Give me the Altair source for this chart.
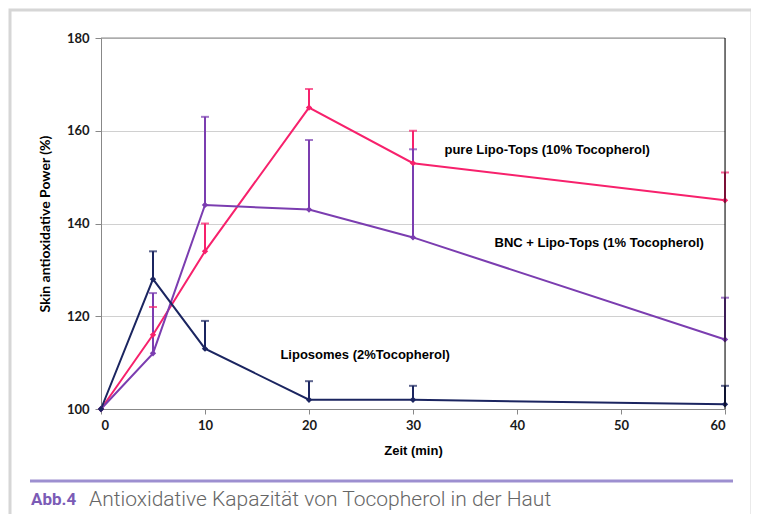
import altair as alt
import pandas as pd

times = [0, 5, 10, 20, 30, 60]
series_names = ["pure Lipo-Tops", "BNC + Lipo-Tops", "Liposomes"]
pure_vals = [100, 116, 134, 165, 153, 145]
pure_err = [100, 122, 140, 169, 160, 151]
bnc_vals = [100, 112, 144, 143, 137, 115]
bnc_err = [100, 125, 163, 158, 156, 124]
lipo_vals = [100, 128, 113, 102, 102, 101]
lipo_err = [100, 134, 119, 106, 105, 105]
colors = ["#f7216c", "#7b3db0", "#1b2560"]

label_texts = ["pure  Lipo-Tops (10% Tocopherol)", "BNC + Lipo-Tops (1% Tocopherol)", "Liposomes  (2%Tocopherol)"]
label_x = [42.9, 47.9, 25.4]
label_y = [155.9, 135.8, 111.6]

rows = []
for name, vals, errs in [(series_names[0], pure_vals, pure_err),
                         (series_names[1], bnc_vals, bnc_err),
                         (series_names[2], lipo_vals, lipo_err)]:
    for t, v, e in zip(times, vals, errs):
        rows.append({"series": name, "t": t, "v": v, "e": e})
df = pd.DataFrame(rows)
df_err = df[df["t"] > 0]
labels = pd.DataFrame({"text": label_texts, "x": label_x, "y": label_y})

W, H = 624, 371
FONT = "Liberation Sans"
TFONT = "Lato"

xs = alt.Scale(domain=[0, 60], nice=False)
ys = alt.Scale(domain=[100, 180], nice=False)
col = alt.Color("series:N", scale=alt.Scale(domain=series_names, range=colors), legend=None)

base = alt.Chart(df)

lines = base.mark_line(strokeWidth=2).encode(
    x=alt.X("t:Q", scale=xs, axis=alt.Axis(values=[0, 10, 20, 30, 40, 50, 60], title="Zeit (min)",
        grid=False, domainColor="#888888", tickColor="#888888", tickSize=5, labelPadding=5,
        labelFont=TFONT, labelFontWeight="bold", labelFontSize=13, labelColor="#1a1a1a",
        titleFont=FONT, titleFontWeight="bold", titleFontSize=13, titlePadding=12, titleColor="#000000")),
    y=alt.Y("v:Q", scale=ys, axis=alt.Axis(values=[100, 120, 140, 160, 180], title="Skin antioxidative Power (%)",
        grid=True, gridColor="#d0d0d0", domainColor="#888888", tickColor="#888888", tickSize=6, labelPadding=6,
        labelFont=TFONT, labelFontWeight="bold", labelFontSize=13, labelColor="#1a1a1a",
        titleFont=TFONT, titleFontWeight="bold", titleFontSize=14, titlePadding=14, titleColor="#000000")),
    color=col, detail="series:N",
)

errs = alt.Chart(df_err).mark_rule(strokeWidth=2).encode(
    x="t:Q", y="v:Q", y2="e:Q", color=col)
caps = alt.Chart(df_err).mark_tick(orient="horizontal", size=8, thickness=2).encode(
    x="t:Q", y="e:Q", color=col)
pts = base.mark_point(shape="diamond", filled=True, size=40, opacity=1).encode(
    x="t:Q", y="v:Q", color=col)

txt = alt.Chart(labels).mark_text(font=FONT, fontWeight="bold", fontSize=13, color="#000000").encode(
    x=alt.X("x:Q", scale=xs), y=alt.Y("y:Q", scale=ys), text="text:N")

deco = alt.Chart(pd.DataFrame({"a": [0]}))
right_border = deco.mark_rule(color="#000000", strokeWidth=1).encode(
    x=alt.value(W), y=alt.value(0), y2=alt.value(H))
top_border = deco.mark_rule(color="#888888", strokeWidth=1).encode(
    x=alt.value(0), x2=alt.value(W), y=alt.value(0))
frame = deco.mark_rect(fill=None, stroke="#d6d6d6", strokeWidth=3, filled=False).encode(
    x=alt.value(-91), x2=alt.value(651), y=alt.value(-28), y2=alt.value(520))
sep = deco.mark_rule(color="#9d8fd0", strokeWidth=3).encode(
    x=alt.value(-71), x2=alt.value(632), y=alt.value(443))
cap1 = deco.mark_text(text="Abb.4", font="Roboto", fontWeight="bold", fontSize=17,
    color="#7b5bb6", align="left", baseline="middle").encode(x=alt.value(-70), y=alt.value(462))
cap2 = deco.mark_text(text="Antioxidative Kapazität von Tocopherol in der Haut", font="Roboto",
    fontWeight=300, fontSize=21, color="#666666", align="left", baseline="middle").encode(
    x=alt.value(-12), y=alt.value(462))

chart = alt.layer(frame, top_border, lines, errs, caps, pts, txt, right_border, sep, cap1, cap2).properties(
    width=W, height=H,
    autosize=alt.AutoSizeParams(type="none"),
    padding={"left": 93, "top": 30, "right": 26, "bottom": 105},
).configure_view(stroke=None).configure(background="#ffffff")

chart.save("out.html", embed_options={"renderer": "svg", "actions": False})
